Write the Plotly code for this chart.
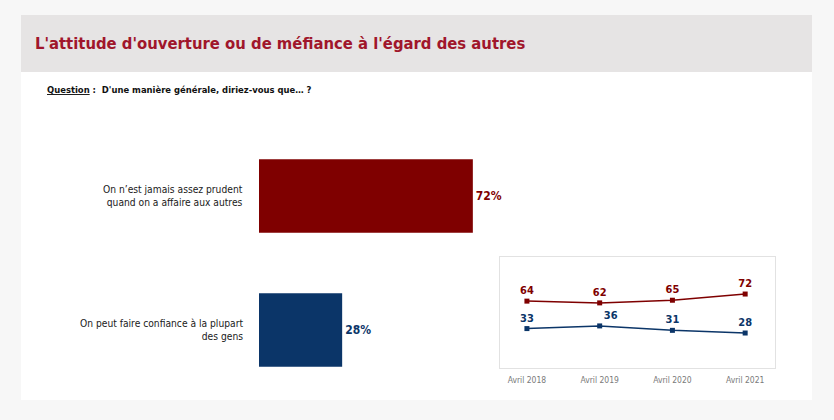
import plotly.graph_objects as go

# ---- data ----
categories = ["On peut faire confiance à la plupart<br>des gens",
              "On n’est jamais assez prudent<br>quand on a affaire aux autres"]
shares = [28, 72]
bar_colors = ["#0b3568", "#7f0000"]

years = ["Avril 2018", "Avril 2019", "Avril 2020", "Avril 2021"]
prudent = [64, 62, 65, 72]
confiance = [33, 36, 31, 28]

W, H = 834, 420
FONT = "DejaVu Sans Condensed, Roboto, sans-serif"
RED = "#7f0000"
BLUE = "#0b3568"

def px(x):
    return x / W

def py(y):
    return 1 - y / H

fig = go.Figure()

# main horizontal bars
fig.add_trace(go.Bar(
    x=shares, y=[0, 1], orientation="h",
    marker=dict(color=bar_colors, line=dict(width=0)),
    width=0.55,
    text=[f"{v}%" for v in shares], textposition="outside",
    textfont=dict(family=FONT, size=12, color=bar_colors, weight="bold"),
    cliponaxis=False, showlegend=False, hoverinfo="skip",
    xaxis="x", yaxis="y"))

# category labels
for i, c in enumerate(categories):
    fig.add_annotation(x=px(245), y=i, xref="paper", yref="y", text=c,
                       xanchor="right", yanchor="middle", align="right",
                       showarrow=False,
                       font=dict(family=FONT, size=10.2, color="#1a1a1a"))

# inset trend lines
fig.add_trace(go.Scatter(
    x=[0, 1, 2, 3], y=prudent, mode="lines+markers+text",
    line=dict(color=RED, width=1.5), marker=dict(symbol="square", size=5, color=RED),
    text=[str(v) for v in prudent], textposition="top center",
    textfont=dict(family=FONT, size=11, color=RED, weight="bold"),
    cliponaxis=False, showlegend=False, hoverinfo="skip",
    xaxis="x2", yaxis="y2"))
fig.add_trace(go.Scatter(
    x=[0, 1, 2, 3], y=confiance, mode="lines+markers+text",
    line=dict(color=BLUE, width=1.5), marker=dict(symbol="square", size=5, color=BLUE),
    text=[str(v) for v in confiance],
    textposition=["top center", "top right", "top center", "top center"],
    textfont=dict(family=FONT, size=11, color=BLUE, weight="bold"),
    cliponaxis=False, showlegend=False, hoverinfo="skip",
    xaxis="x2", yaxis="y2"))

shapes = [
    dict(type="rect", xref="paper", yref="paper", x0=px(21), x1=px(812), y0=py(400), y1=py(15),
         fillcolor="white", line=dict(width=0), layer="below"),
    dict(type="rect", xref="paper", yref="paper", x0=px(21), x1=px(812), y0=py(72), y1=py(15),
         fillcolor="#e6e4e4", line=dict(width=0), layer="below"),
]

fig.add_annotation(x=px(33), y=py(44), xref="paper", yref="paper",
                   text="L'attitude d'ouverture ou de méfiance à l'égard des autres",
                   xanchor="left", yanchor="middle", showarrow=False,
                   font=dict(family=FONT, size=16.5, color="#a0162b", weight="bold"))
fig.add_annotation(x=px(45), y=py(89), xref="paper", yref="paper",
                   text="<u>Question</u> :  D'une manière générale, diriez-vous que… ?",
                   xanchor="left", yanchor="middle", showarrow=False,
                   font=dict(family=FONT, size=9.4, color="#111111", weight="bold"))

fig.update_layout(
    width=W, height=H, margin=dict(l=0, r=0, t=0, b=0),
    paper_bgcolor="#f7f7f7", plot_bgcolor="rgba(0,0,0,0)",
    shapes=shapes,
    xaxis=dict(domain=[px(259), px(556)], range=[0, 100], visible=False, fixedrange=True),
    yaxis=dict(domain=[py(397), py(129)], range=[-0.5, 1.5], visible=False, fixedrange=True),
    xaxis2=dict(domain=[px(500), px(775)], range=[-0.37, 3.41], anchor="y2",
                tickvals=[0, 1, 2, 3], ticktext=years, showgrid=False, zeroline=False,
                showline=True, mirror=True, linecolor="#e2e2e2", linewidth=1,
                tickfont=dict(family=FONT, size=8.5, color="#7a7a7a"), ticks="",
                ticklabelstandoff=4, fixedrange=True),
    yaxis2=dict(domain=[py(368), py(257)], range=[-11.5, 113.8], anchor="x2",
                showticklabels=False, showgrid=False, zeroline=False, fixedrange=True,
                showline=True, mirror=True, linecolor="#e2e2e2", linewidth=1, ticks=""),
)

fig.write_html("out.html", config={"displayModeBar": False},
               post_script="document.body.style.margin='0';document.body.style.background='#f7f7f7';")
